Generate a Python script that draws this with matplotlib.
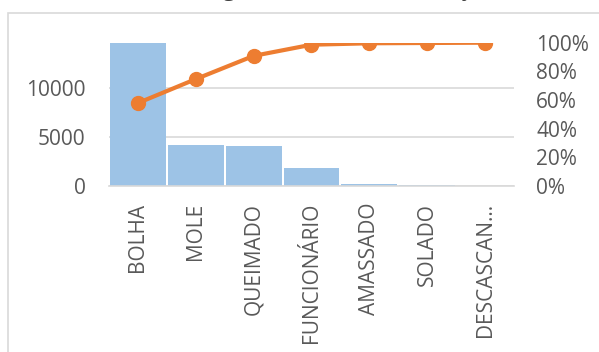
import matplotlib.pyplot as plt
from matplotlib.patches import Rectangle
import numpy as np

plt.rcParams['font.family'] = ['Open Sans', 'DejaVu Sans']

# Pareto data
categories = ['BOLHA', 'MOLE', 'QUEIMADO', 'FUNCIONÁRIO', 'AMASSADO', 'SOLADO', 'DESCASCAN…']
counts = [14550, 4160, 4030, 1860, 230, 100, 20]
cum_pct = [57.9, 74.6, 90.8, 98.6, 99.6, 99.8, 100.0]
left_ticks = [0, 5000, 10000]
right_ticks = [0, 20, 40, 60, 80, 100]
title = 'Diagrama de Pareto - Queijo'

text_col = '#595959'
grid_col = '#d9d9d9'

fig = plt.figure(figsize=(5.99, 3.52), dpi=100)
ax = fig.add_axes([109 / 599, 1 - 186 / 352, 405 / 599, (186 - 42.7) / 352])

x = np.arange(len(categories))
ax.bar(x, counts, width=0.965, color='#9dc3e6', zorder=2)
ax.set_xlim(-0.5, len(categories) - 0.5)
ax.set_ylim(0, 14550)
ax.set_yticks(left_ticks)
ax.set_yticklabels([str(t) for t in left_ticks])
ax.grid(axis='y', color=grid_col, linewidth=1.2, zorder=0)
ax.set_xticks(x)
ax.set_xticklabels(categories, rotation=90, va='top', ha='center')
for s in ['top', 'right', 'left']:
    ax.spines[s].set_visible(False)
ax.spines['bottom'].set_color(grid_col)
ax.spines['bottom'].set_linewidth(1.2)
ax.tick_params(axis='y', length=0, pad=17, labelsize=15, labelcolor=text_col)
ax.tick_params(axis='x', length=0, pad=12, labelsize=15, labelcolor=text_col)

ax2 = ax.twinx()
ax2.plot(x, cum_pct, color='#ed7d31', linewidth=3, marker='o', markersize=10,
         solid_capstyle='round', zorder=3)
ax2.set_ylim(0, 100)
ax2.set_yticks(right_ticks)
ax2.set_yticklabels([f'{t}%' for t in right_ticks])
ax2.tick_params(axis='y', length=0, pad=16, labelsize=15, labelcolor=text_col)
for s in ax2.spines.values():
    s.set_visible(False)

# chart border (cropped on right and bottom)
fig.patches.append(Rectangle((8 / 599, -0.2), 1.2, 1.2 - 13 / 352,
                             transform=fig.transFigure, fill=False,
                             edgecolor=grid_col, linewidth=1.2))

# title, mostly cropped off the top
fig.text(336 / 599, 1 + 4 / 352, title, ha='center', va='baseline',
         fontsize=16, color='#404040')

fig.savefig('out.png', dpi=100)
